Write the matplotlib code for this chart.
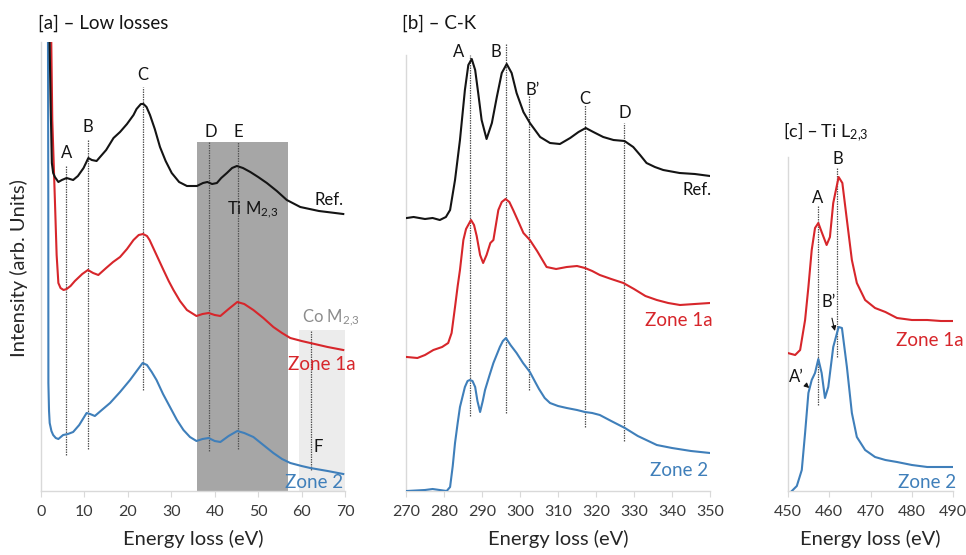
import matplotlib
matplotlib.use("Agg")
import matplotlib.pyplot as plt
import numpy as np

plt.rcParams['font.family'] = ['Lato', 'DejaVu Sans']
plt.rcParams['mathtext.default'] = 'regular'

# ---- panel a : low losses ----
a_ref_x = [1.9, 2.2, 2.5, 2.8, 3.2, 4.0, 4.8, 5.9, 7.4, 8.5, 9.8, 10.9, 11.7, 12.8, 13.6, 15.0, 16.7,
           18.2, 19.8, 21.3, 22.0, 23.0, 23.6, 24.3, 25.1, 26.2, 27.4, 28.7, 30.1, 31.8, 33.6, 35.9,
           37.3, 38.3, 39.4, 40.5, 41.5, 42.8, 44.0, 45.1, 46.5, 48.2, 50.0, 52.0, 54.3, 56.6, 59.7,
           64.0, 69.6]
a_ref_y = [471, 391, 328, 318, 314, 309, 311, 313, 311, 315, 323, 333, 331, 330, 334, 341, 353,
           359, 367, 376, 382, 387, 387, 384, 376, 362, 344, 330, 318, 309, 305, 305,
           308, 309, 307, 308, 313, 318, 323, 325, 323, 319, 314, 308, 300, 291, 284,
           280, 277]
a_z1_x = [2.3, 2.6, 3.2, 3.6, 4.0, 4.5, 5.2, 5.9, 6.8, 7.8, 9.5, 10.8, 12.0, 13.2, 15.0, 16.6, 18.2,
          19.8, 21.3, 22.5, 23.5, 24.4, 25.0, 26.6, 28.2, 29.4, 30.5, 32.0, 33.6, 35.8, 37.2, 38.6,
          40.0, 41.3, 43.2, 45.2, 46.8, 48.9, 51.2, 53.5, 55.5, 57.4, 60.0, 62.0, 66.0, 69.6]
a_z1_y = [471, 371, 291, 236, 208, 203, 201, 202, 205, 210, 217, 221, 218, 216, 223, 229, 234,
          242, 251, 256, 257, 255, 251, 236, 221, 210, 201, 190, 181, 175, 177, 178,
          176, 175, 182, 189, 187, 181, 173, 164, 158, 153, 150, 148, 144, 141]
a_z2_x = [1.6, 1.68, 1.7, 1.85, 2.0, 2.4, 2.8, 3.4, 4.0, 5.1, 6.2, 7.4, 8.8, 10.5, 11.3, 12.4, 14.0,
          15.9, 18.2, 20.5, 22.2, 23.4, 24.4, 25.5, 26.6, 28.1, 29.7, 31.3, 32.8, 34.3, 35.8, 37.2,
          38.6, 40.0, 41.3, 43.2, 45.2, 46.8, 48.9, 51.2, 53.5, 55.5, 57.4, 60.0, 62.0, 66.0, 69.6]
a_z2_y = [471, 291, 108, 80, 68, 60, 56, 53, 52, 56, 57, 59, 66, 78, 77, 75, 81,
          88, 99, 111, 121, 128, 126, 119, 111, 97, 84, 71, 61, 54, 50, 52,
          53, 50, 49, 55, 60, 58, 54, 46, 38, 32, 28, 25, 23, 20, 17]
a_peaks = ['A', 'B', 'C', 'D', 'E']
a_peak_x = [5.8, 10.9, 23.4, 38.7, 45.3]
a_peak_top = [325, 351, 404, 349, 349]
a_peak_bot = [36, 42, 101, 40, 42]
a_label_x = [5.8, 10.9, 23.4, 39.1, 45.5]
a_label_y = [338, 364, 416, 359, 359]

# ---- panel b : C-K ----
b_ref_x = [270.2, 272.0, 275.0, 277.0, 278.9, 280.5, 281.6, 282.9, 284.2, 285.5, 286.4, 287.3, 288.2,
           289.0, 289.9, 291.2, 292.6, 293.9, 295.2, 296.5, 297.8, 299.1, 300.9, 302.6, 305.3, 307.9,
           310.5, 313.2, 315.4, 317.3, 319.3, 321.9, 324.6, 327.5, 329.8, 331.6, 333.3, 335.5, 337.7,
           342.0, 346.0, 350.0]
b_ref_y = [273, 274, 272, 273, 271, 274, 281, 311, 351, 401, 426, 432, 421,
           398, 371, 352, 368, 394, 418, 427, 418, 398, 379, 368, 354, 348,
           347, 353, 359, 363, 359, 354, 351, 350, 344, 336, 328, 324, 321,
           318, 317, 315]
b_z1_x = [270.2, 273.0, 275.0, 277.2, 279.5, 281.1, 282.0, 282.9, 283.6, 284.2, 285.1, 285.8, 287.1,
          287.9, 288.6, 289.5, 290.3, 291.2, 292.2, 293.0, 294.3, 295.2, 296.2, 297.2, 298.2, 299.5,
          300.9, 302.6, 304.5, 307.0, 309.5, 312.3, 315.0, 317.1, 319.0, 321.0, 324.0, 327.2, 330.0,
          333.0, 336.0, 339.0, 342.1, 346.0, 350.0]
b_z1_y = [134, 133, 136, 141, 144, 148, 158, 184, 205, 221, 251, 262, 271,
          266, 255, 236, 228, 236, 248, 251, 281, 289, 292, 289, 281, 270,
          258, 251, 240, 224, 222, 224, 225, 223, 220, 216, 212, 208, 202,
          195, 191, 188, 186, 187, 188]
b_z2_x = [270.2, 275.0, 277.0, 280.7, 281.6, 282.3, 282.9, 283.6, 284.2, 285.5, 286.2, 286.8, 287.5,
          288.2, 288.8, 289.5, 290.2, 290.8, 292.0, 293.0, 294.7, 295.5, 296.3, 297.5, 299.1, 300.8,
          302.6, 304.0, 305.0, 306.5, 307.9, 310.0, 312.3, 315.0, 317.1, 319.0, 321.0, 324.0, 327.6,
          331.0, 336.0, 340.0, 345.0, 350.0]
b_z2_y = [0, 1, 2, 0, 4, 25, 48, 68, 84, 104, 110, 111, 110,
          104, 90, 79, 90, 101, 116, 128, 144, 150, 153, 146, 138, 128,
          119, 109, 102, 93, 88, 85, 83, 81, 79, 78, 76, 70, 63,
          55, 46, 43, 40, 38]
b_peaks = ['A', 'B', 'B\u2019', 'C', 'D']
b_peak_x = [286.8, 296.3, 302.4, 317.1, 327.4]
b_peak_top = [436, 448, 396, 386, 368]
b_peak_bot = [75, 78, 101, 64, 50]
b_label_x = [283.8, 293.7, 303.4, 317.1, 327.6]
b_label_y = [439, 439, 401, 392, 378]

# ---- panel c : Ti L2,3 ----
c_z1_x = [450.0, 451.8, 453.0, 454.2, 455.0, 455.8, 456.6, 457.4, 458.2, 459.4, 460.2, 461.0, 462.3,
          463.2, 464.3, 465.5, 466.7, 468.7, 471.1, 473.6, 476.4, 480.0, 483.7, 487.0, 490.0]
c_z1_y = [138, 136, 141, 171, 204, 241, 263, 268, 259, 246, 254, 288, 314,
          308, 271, 231, 208, 191, 183, 179, 173, 171, 171, 170, 170]
c_z2_x = [451.0, 452.2, 453.4, 454.2, 455.0, 455.8, 456.6, 457.4, 458.2, 459.0, 459.8, 461.0, 462.3,
          463.1, 464.3, 465.5, 466.7, 468.7, 471.1, 473.6, 476.4, 480.0, 483.7, 487.0, 490.0]
c_z2_y = [0, 5, 21, 58, 98, 111, 118, 132, 118, 93, 104, 144, 164,
          163, 124, 78, 54, 41, 34, 31, 29, 26, 24, 24, 24]
c_peak_x = [457.2, 462.0]
c_peak_top = [285, 324]
c_peak_bot = [86, 134]

BLACK = '#141414'
RED = '#d7262b'
BLUE = '#3f7fba'
SPINE = '#d9d9d9'
LAB = 12
ZONE = 13.5

fig = plt.figure(figsize=(9.66, 5.55), dpi=100)
W, H = 966.0, 555.0
bot_px, top_px = 491.0, 42.0


def make_ax(l, r, ymax_spine, xmin, xmax, ticks):
    ax = fig.add_axes([l / W, 1 - bot_px / H, (r - l) / W, (bot_px - top_px) / H])
    ax.set_xlim(xmin, xmax)
    ax.set_ylim(0, bot_px - top_px)
    ax.set_xticks(ticks)
    ax.set_yticks([])
    for s in ['top', 'right']:
        ax.spines[s].set_visible(False)
    for s in ['left', 'bottom']:
        ax.spines[s].set_color(SPINE)
        ax.spines[s].set_linewidth(1.0)
    ax.spines['left'].set_bounds(0, ymax_spine)
    ax.tick_params(axis='x', length=4, color=SPINE, labelsize=11.5, labelcolor='#3a3a3a', pad=6)
    ax.set_xlabel('Energy loss (eV)', fontsize=14.5, color='#262626', labelpad=8)
    ax.patch.set_alpha(0)
    return ax


def vlines(ax, xs, tops, bots):
    for x, t, b in zip(xs, tops, bots):
        ax.plot([x, x], [b, t], color='#555555', lw=0.9, ls=(0, (1.2, 0.8)), zorder=2)


lw = 1.5

# panel a
ax = make_ax(41, 345, 449, 0, 70, range(0, 71, 10))
ax.axvspan(36.0, 56.8, ymin=0, ymax=349 / 449, color='#a6a6a6', lw=0, zorder=1)
ax.axvspan(59.5, 70.0, ymin=0, ymax=161 / 449, color='#ececec', lw=0, zorder=1)
vlines(ax, a_peak_x, a_peak_top, a_peak_bot)
vlines(ax, [62.2], [161], [21])
ax.plot(a_z2_x, a_z2_y, color=BLUE, lw=lw, zorder=3)
ax.plot(a_ref_x, a_ref_y, color=BLACK, lw=lw, zorder=4)
ax.plot(a_z1_x, a_z1_y, color=RED, lw=lw, zorder=3)
for lab, x, t in zip(a_peaks, a_label_x, a_label_y):
    ax.text(x, t, lab, ha='center', va='center', fontsize=LAB, color=BLACK)
ax.text(48.8, 281, 'Ti M$_{2{,}3}$', ha='center', va='center', fontsize=LAB, color=BLACK, zorder=5)
ax.text(69.6, 291, 'Ref.', ha='right', va='center', fontsize=LAB, color=BLACK)
ax.text(66.8, 173, 'Co M$_{2{,}3}$', ha='center', va='center', fontsize=LAB, color='#8c8c8c', clip_on=False)
ax.text(72.4, 126, 'Zone 1a', ha='right', va='center', fontsize=ZONE, color=RED, clip_on=False)
ax.text(63.8, 44, 'F', ha='center', va='center', fontsize=LAB, color=BLACK)
ax.text(69.6, 8, 'Zone 2', ha='right', va='center', fontsize=ZONE, color=BLUE, clip_on=False)

# panel b
ax = make_ax(406, 710, 436, 270, 350, range(270, 351, 10))
vlines(ax, b_peak_x, b_peak_top, b_peak_bot)
ax.plot(b_ref_x, b_ref_y, color=BLACK, lw=lw, zorder=3)
ax.plot(b_z1_x, b_z1_y, color=RED, lw=lw, zorder=3)
ax.plot(b_z2_x, b_z2_y, color=BLUE, lw=lw, zorder=3)
for lab, x, t in zip(b_peaks, b_label_x, b_label_y):
    ax.text(x, t, lab, ha='center', va='center', fontsize=LAB, color=BLACK, clip_on=False)
ax.text(350.5, 301, 'Ref.', ha='right', va='center', fontsize=LAB, color=BLACK, clip_on=False)
ax.text(350.8, 171, 'Zone 1a', ha='right', va='center', fontsize=ZONE, color=RED, clip_on=False)
ax.text(349.5, 21, 'Zone 2', ha='right', va='center', fontsize=ZONE, color=BLUE, clip_on=False)

# panel c
ax = make_ax(787.7, 953.3, 334, 450, 490, range(450, 491, 10))
vlines(ax, c_peak_x, c_peak_top, c_peak_bot)
ax.plot(c_z1_x, c_z1_y, color=RED, lw=lw, zorder=3)
ax.plot(c_z2_x, c_z2_y, color=BLUE, lw=lw, zorder=3)
ax.text(457.2, 293, 'A', ha='center', va='center', fontsize=LAB, color=BLACK)
ax.text(462.0, 332, 'B', ha='center', va='center', fontsize=LAB, color=BLACK, clip_on=False)
ax.annotate('B\u2019', xy=(461.4, 160), xytext=(459.8, 189), ha='center', va='center',
            fontsize=LAB, color=BLACK,
            arrowprops=dict(arrowstyle='-|>', color=BLACK, lw=0.8, mutation_scale=7, shrinkA=4, shrinkB=0))
ax.annotate('A\u2019', xy=(455.2, 103), xytext=(452.2, 114), ha='center', va='center',
            fontsize=LAB, color=BLACK,
            arrowprops=dict(arrowstyle='-|>', color=BLACK, lw=0.8, mutation_scale=7, shrinkA=4, shrinkB=0))
ax.text(492.6, 151, 'Zone 1a', ha='right', va='center', fontsize=ZONE, color=RED, clip_on=False)
ax.text(490.7, 9, 'Zone 2', ha='right', va='center', fontsize=ZONE, color=BLUE, clip_on=False)

# titles and y label
fig.text(38 / W, 1 - 23 / H, '[a] \u2013 Low losses', fontsize=13.5, color=BLACK, ha='left', va='center')
fig.text(402 / W, 1 - 23 / H, '[b] \u2013 C-K', fontsize=13.5, color=BLACK, ha='left', va='center')
fig.text(783 / W, 1 - 132 / H, '[c] \u2013 Ti L$_{2{,}3}$', fontsize=13, color=BLACK, ha='left', va='center')
fig.text(19 / W, 1 - 268 / H, 'Intensity (arb. Units)', fontsize=14.5, color='#262626',
         rotation=90, ha='center', va='center')

fig.savefig('out.png', dpi=100, facecolor='white')
